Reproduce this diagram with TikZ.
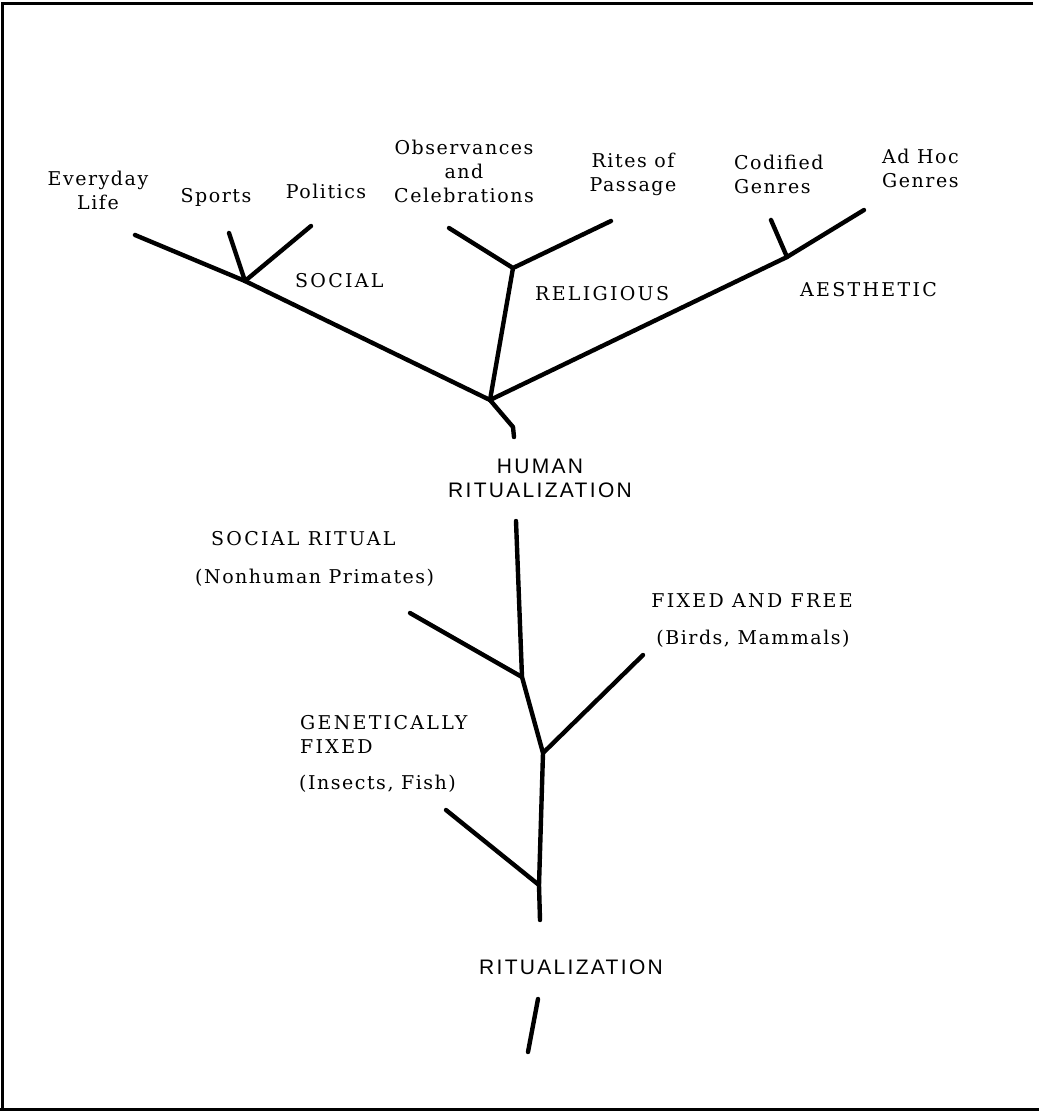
\documentclass[tikz,border=0pt]{standalone}
\usepackage{fontspec}
\setmainfont{DejaVu Serif}[LetterSpace=8]
\newfontfamily\capsserif{DejaVu Serif}[LetterSpace=12]
\newfontfamily\capssans{Liberation Sans}[LetterSpace=11]
\begin{document}
\begin{tikzpicture}[x=1pt,y=-1pt,
  branch/.style={line width=4.4pt,line cap=round,line join=round},
  frame/.style={line width=3pt},
  lab/.style={inner sep=0pt,anchor=base,font=\fontsize{19}{24}\selectfont},
  labl/.style={lab,anchor=base west,align=left},
  labc/.style={lab,align=center},
  caps/.style={inner sep=0pt,anchor=base west,font=\fontsize{19}{23.5}\selectfont\capsserif},
  sanslab/.style={inner sep=0pt,anchor=base,align=center,font=\fontsize{21}{24}\selectfont\capssans}]
\useasboundingbox (0,0) rectangle (1039,1112);
% frame
\coordinate (fTL) at (2,3);
\coordinate (fTR) at (1033,3);
\coordinate (fBL) at (2,1109);
\coordinate (fBL0) at (0,1109);
\coordinate (fBR) at (1039,1109);
\draw[frame] (fTR) -- (fTL) -- (fBL);
\draw[frame] (fBL0) -- (fBR);
% coordinates of the tree
\coordinate (hub) at (490,400);
\coordinate (socj) at (245,281);
\coordinate (everyE) at (135,235);
\coordinate (sportsE) at (229,233);
\coordinate (polE) at (311,226);
\coordinate (relj) at (513,268);
\coordinate (obsE) at (449,228);
\coordinate (ritesE) at (611,221);
\coordinate (aesj) at (787,257);
\coordinate (adhocE) at (864,210);
\coordinate (codE) at (771,220);
\coordinate (stubA) at (513,427);
\coordinate (stubB) at (514,437);
\coordinate (tTop) at (516,521);
\coordinate (j1) at (522,677);
\coordinate (srE) at (410,613);
\coordinate (j2) at (543,753);
\coordinate (ffE) at (643,655);
\coordinate (j3) at (539,885);
\coordinate (gE) at (446,810);
\coordinate (tEnd) at (540,920);
\coordinate (rootA) at (538,999);
\coordinate (rootB) at (528,1052);
% upper tree
\draw[branch] (everyE) -- (socj) -- (hub);
\draw[branch] (sportsE) -- (socj);
\draw[branch] (polE) -- (socj);
\draw[branch] (hub) -- (relj);
\draw[branch] (obsE) -- (relj) -- (ritesE);
\draw[branch] (hub) -- (aesj) -- (adhocE);
\draw[branch] (codE) -- (aesj);
\draw[branch] (hub) -- (stubA) -- (stubB);
% lower tree
\draw[branch] (tTop) -- (j1) -- (j2) -- (j3) -- (tEnd);
\draw[branch] (srE) -- (j1);
\draw[branch] (ffE) -- (j2);
\draw[branch] (gE) -- (j3);
\draw[branch] (rootA) -- (rootB);
% labels, top row (multi-line nodes: base = last line)
\node[labc] (everyday) at (98,209) {Everyday\\Life};
\node[lab] (sports) at (216,202) {Sports};
\node[lab] (politics) at (326,198) {Politics};
\node[labc] (observ) at (464,202) {Observances\\and\\Celebrations};
\node[labc] (rites) at (633,191) {Rites of\\Passage};
\node[labl] (codified) at (734,193) {Codified\\Genres};
\node[labl] (adhoc) at (882,187) {Ad Hoc\\Genres};
% category labels
\node[caps] (social) at (295,287) {SOCIAL};
\node[caps] (religious) at (535,300) {RELIGIOUS};
\node[caps] (aesthetic) at (800,296) {AESTHETIC};
\node[sanslab] (human) at (540,497) {HUMAN\\RITUALIZATION};
% lower labels
\node[caps] (socrit) at (211,545) {SOCIAL RITUAL};
\node[lab,anchor=base west] (primates) at (195,583) {(Nonhuman Primates)};
\node[caps,anchor=base] (fixfree) at (752,607) {FIXED AND FREE};
\node[lab] (birds) at (753,644) {(Birds, Mammals)};
\node[caps,align=left] (genfix) at (300,753) {GENETICALLY\\FIXED};
\node[lab,anchor=base west] (insects) at (299,789) {(Insects, Fish)};
\node[sanslab] (ritual) at (571,974) {RITUALIZATION};
\end{tikzpicture}
\end{document}
